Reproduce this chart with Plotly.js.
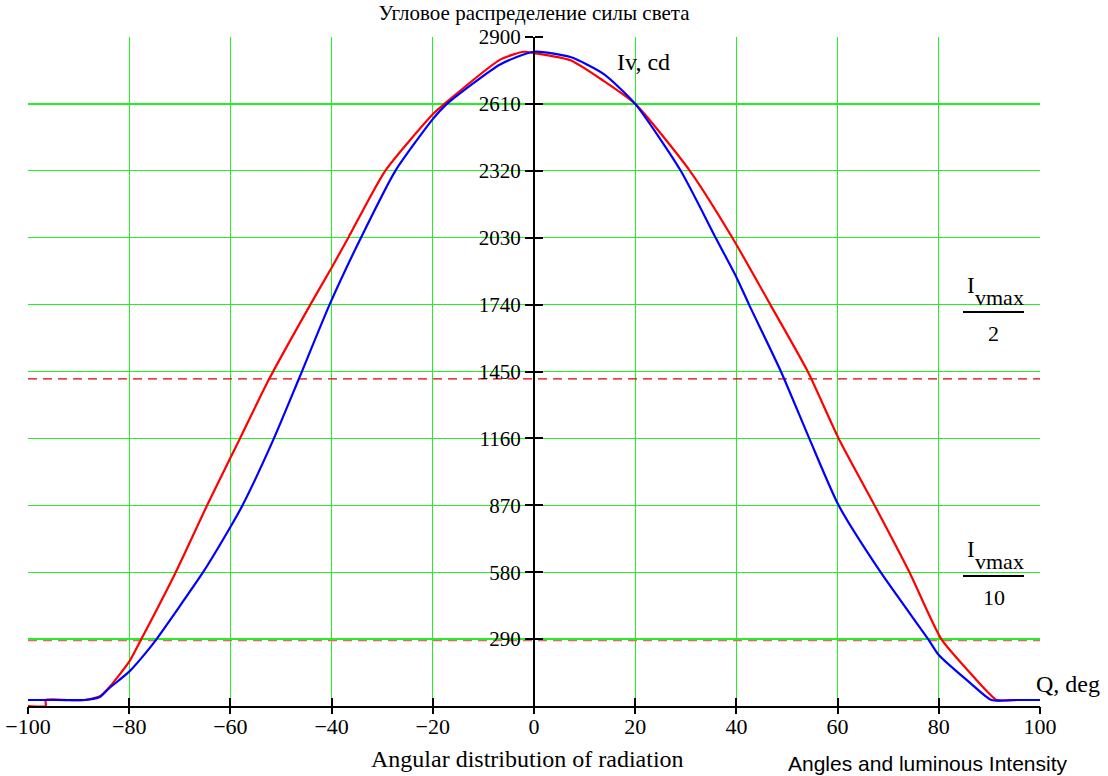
<!DOCTYPE html>
<html>
<head>
<meta charset="utf-8">
<script src="https://cdn.plot.ly/plotly-3.0.1.min.js"></script>
<style>
  html, body { margin: 0; padding: 0; background: #fff; }
  #chart { width: 1108px; height: 776px; }
</style>
</head>
<body>
<div id="chart"></div>
<script>
// ---- Data ----
const redAngles = [-100, -96.5, -96.5, -92, -88.8, -85.8, -83.9, -80, -77.6, -70.8, -64.6, -60, -58.1, -52.5, -44.2, -40, -36.7, -29.4, -20, -17.7, -6.6, -2, 0, 7.2, 13.8, 20, 30.8, 39.2, 46.7, 54.1, 60.2, 67.3, 74.2, 80.5, 86.3, 89.6, 91.4, 95.5, 100];
const redIntensity = [0, 0, 26, 26, 26, 42, 82, 192, 290, 580, 870, 1076, 1160, 1411, 1740, 1900, 2030, 2320, 2565, 2610, 2803, 2836, 2830, 2799, 2709, 2610, 2320, 2030, 1740, 1450, 1160, 870, 580, 290, 141, 62, 26, 26, 26];

const blueAngles = [-100, -94, -88.8, -85.8, -83.9, -80, -76, -74.6, -65.4, -60, -57.6, -51.4, -46.6, -40.4, -34.2, -27.4, -20, -17.2, -6.6, 0, 7.2, 13.8, 20, 29.0, 35.9, 40, 42.5, 48.8, 54.4, 60.2, 68.5, 77.9, 80, 86.3, 90.4, 95.5, 100];
const blueIntensity = [26, 26, 26, 39, 78, 149, 250, 290, 580, 776, 870, 1160, 1411, 1740, 2030, 2320, 2544, 2610, 2782, 2836, 2813, 2739, 2610, 2320, 2030, 1859, 1740, 1450, 1160, 870, 580, 290, 221, 98, 26, 26, 26];

const levelAngles = [-100, 100];
const halfMaxLevel = 1418;   // Ivmax / 2
const tenthMaxLevel = 283.6; // Ivmax / 10

const xTicks = [-100, -80, -60, -40, -20, 0, 20, 40, 60, 80, 100];
const xTickText = ['\u2212100', '\u221280', '\u221260', '\u221240', '\u221220', '0', '20', '40', '60', '80', '100'];
const yTicks = [290, 580, 870, 1160, 1450, 1740, 2030, 2320, 2610, 2900];
const yTickText = ['290', '580', '870', '1160', '1450', '1740', '2030', '2320', '2610', '2900'];

const titleText = 'Угловое распределение силы света';
const xCaption = 'Angular distribution of radiation';
const cornerCaption = 'Angles and luminous Intensity';
const yUnitLabel = 'Iv, cd';
const xUnitLabel = 'Q, deg';
const fracTop = 'I';
const fracSub = 'vmax';
const halfDen = '2';
const tenthDen = '10';

// ---- Layout helpers (pixel -> paper) ----
const W = 1108, H = 776;
const M = { l: 28, r: 68, t: 37, b: 70 };
const PW = W - M.l - M.r, PH = H - M.t - M.b;
const px = v => (v - M.l) / PW;
const py = v => (H - M.b - v) / PH;

const serif = 'Liberation Serif, Times New Roman, serif';
const sans = 'Liberation Sans, Arial, sans-serif';

const traces = [
  { x: levelAngles, y: [halfMaxLevel, halfMaxLevel], mode: 'lines', line: { color: '#e00000', width: 1.3, dash: '9px,6px' }, hoverinfo: 'skip' },
  { x: levelAngles, y: [tenthMaxLevel, tenthMaxLevel], mode: 'lines', line: { color: '#f46060', width: 1.3, dash: '9px,6px' }, hoverinfo: 'skip' },
  { x: redAngles, y: redIntensity, mode: 'lines', line: { color: '#ff0000', width: 2.2, shape: 'spline', smoothing: 0.6 } },
  { x: blueAngles, y: blueIntensity, mode: 'lines', line: { color: '#0000ff', width: 2.2, shape: 'spline', smoothing: 0.6 } },
  { x: [0], y: [0], xaxis: 'x2', yaxis: 'y2', mode: 'markers', marker: { opacity: 0, size: 1 }, hoverinfo: 'skip' }
];

const gridColor = '#22f022';

function ann(text, xp, yp, size, anchor, fam) {
  return { text: text, x: px(xp), y: py(yp), xref: 'paper', yref: 'paper', xanchor: anchor || 'center', yanchor: 'middle',
           showarrow: false, borderpad: 0, font: { family: fam || serif, size: size, color: '#000' } };
}

const layout = {
  width: W, height: H,
  margin: M,
  paper_bgcolor: '#ffffff', plot_bgcolor: '#ffffff',
  showlegend: false,
  font: { family: serif, color: '#000', size: 22 },
  title: { text: titleText, font: { family: serif, size: 21, color: '#000' }, x: 0.5, xref: 'paper', y: 1 - 13 / H, yanchor: 'middle' },
  xaxis: {
    range: [-100, 100], tickvals: xTicks, ticktext: xTickText,
    showgrid: true, gridcolor: gridColor, gridwidth: 1.2, zeroline: false,
    showline: true, linecolor: '#000', linewidth: 2,
    ticks: 'inside', ticklen: 8, tickwidth: 2, tickcolor: '#000',
    tickfont: { family: serif, size: 22, color: '#000' }
  },
  yaxis: {
    range: [0, 2900], tickvals: yTicks, ticktext: yTickText,
    anchor: 'free', position: 0.5, side: 'left',
    showgrid: true, gridcolor: gridColor, gridwidth: 1.2, zeroline: false,
    showline: true, linecolor: '#000', linewidth: 2,
    ticks: 'outside', ticklen: 8, tickwidth: 2, tickcolor: '#000',
    tickfont: { family: serif, size: 21, color: '#000' }
  },
  xaxis2: {
    range: [-100, 100], tickvals: xTicks, overlaying: 'x', anchor: 'free', position: 0, side: 'bottom',
    showgrid: false, zeroline: false, showticklabels: false, showline: false,
    ticks: 'outside', ticklen: 7, tickwidth: 2, tickcolor: '#000'
  },
  yaxis2: {
    range: [0, 2900], tickvals: yTicks, overlaying: 'y', anchor: 'free', position: 0.5, side: 'right',
    showgrid: false, zeroline: false, showticklabels: false, showline: false,
    ticks: 'outside', ticklen: 8, tickwidth: 2, tickcolor: '#000'
  },
  annotations: [
    ann(yUnitLabel, 616, 62, 24, 'left'),
    ann(xUnitLabel, 1068, 684, 24, 'center'),
    ann(fracTop, 976, 285, 23, 'right'),
    ann(fracSub, 974, 297, 22, 'left'),
    ann(halfDen, 993, 333, 22, 'center'),
    ann(fracTop, 976, 549, 23, 'right'),
    ann(fracSub, 974, 561, 22, 'left'),
    ann(tenthDen, 994, 597, 22, 'center'),
    ann(xCaption, 527, 759, 24, 'center'),
    ann(cornerCaption, 787, 763, 21, 'left', sans)
  ],
  shapes: [
    { type: 'line', xref: 'paper', yref: 'paper', x0: px(963), x1: px(1024), y0: py(312), y1: py(312), line: { color: '#000', width: 2 } },
    { type: 'line', xref: 'paper', yref: 'paper', x0: px(963), x1: px(1024), y0: py(576), y1: py(576), line: { color: '#000', width: 2 } }
  ]
};

Plotly.newPlot('chart', traces, layout, { displayModeBar: false, staticPlot: true });
</script>
</body>
</html>
